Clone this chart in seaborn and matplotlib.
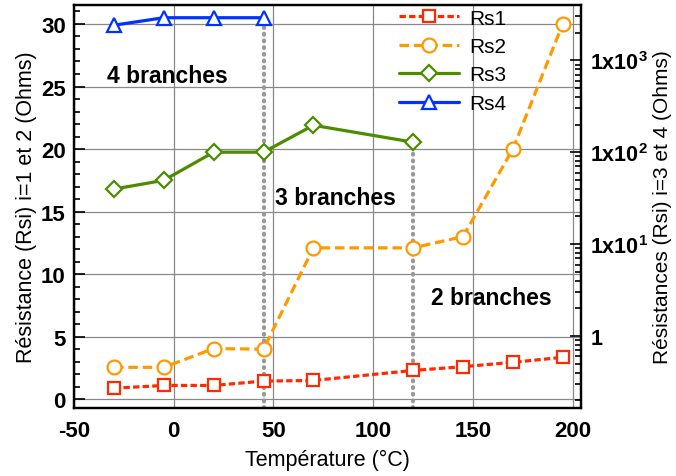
import matplotlib.pyplot as plt
import matplotlib.ticker as mticker
import seaborn as sns

sns.set_theme(style="white")
plt.rcParams["font.family"] = ["Liberation Sans", "DejaVu Sans"]
plt.rcParams["mathtext.fontset"] = "custom"
plt.rcParams["mathtext.bf"] = "Liberation Sans:bold"
plt.rcParams["mathtext.rm"] = "Liberation Sans"
plt.rcParams["axes.unicode_minus"] = False
for key in ["text.color", "axes.labelcolor", "xtick.color", "ytick.color"]:
    plt.rcParams[key] = "black"

# data
temps = [-30, -5, 20, 45, 70, 120, 145, 170, 195]
rs1 = [0.88, 1.1, 1.1, 1.45, 1.5, 2.3, 2.6, 2.95, 3.35]
rs2 = [2.55, 2.55, 4.05, 4.0, 12.1, 12.1, 13.0, 20.0, 30.0]
temps_rs3 = [-30, -5, 20, 45, 70, 120]
rs3 = [16.8, 17.5, 19.75, 19.75, 21.9, 20.55]
temps_rs4 = [-30, -5, 20, 45]
rs4 = [29.9, 30.5, 30.5, 30.5]

# limits between branch regimes (temperature, top of dotted line)
branch_temps = [45, 120]
branch_tops = [30.5, 20.55]

right_ticks = [1, 10, 100, 1000]
right_labels = ["$\\mathbf{1}$", "$\\mathbf{1x10^{1}}$", "$\\mathbf{1x10^{2}}$", "$\\mathbf{1x10^{3}}$"]

RED = "#ff2a00"
ORANGE = "#ff9900"
GREEN = "#4c8c00"
BLUE = "#0033ff"
GRAY = "#999999"

fig, ax = plt.subplots(figsize=(6.76, 4.77), dpi=100)
fig.subplots_adjust(left=0.1095, right=0.859, bottom=0.1426, top=0.987)

ax.grid(True, color="#888888", linewidth=0.9)
ax.set_axisbelow(True)

for t, top in zip(branch_temps, branch_tops):
    ax.vlines(t, -0.7, top, colors=GRAY, linewidth=3,
              linestyles=(0, (0.2, 1.4)), capstyle="round", zorder=1.5)

common = dict(ax=ax, markerfacecolor="white", markeredgewidth=1.6, linewidth=2.3)
sns.lineplot(x=temps, y=rs1, color=RED, marker="s", markersize=8.5,
             markeredgecolor=RED, dashes=(2, 1), label="Rs1", **common)
sns.lineplot(x=temps, y=rs2, color=ORANGE, marker="o", markersize=10,
             markeredgecolor=ORANGE, dashes=(3, 1.5), label="Rs2", **common)
sns.lineplot(x=temps_rs3, y=rs3, color=GREEN, marker="D", markersize=8,
             markeredgecolor=GREEN, label="Rs3", **common)
sns.lineplot(x=temps_rs4, y=rs4, color=BLUE, marker="^", markersize=10,
             markeredgecolor=BLUE, label="Rs4", **common)

ax.set_xlim(-50, 204)
ax.set_ylim(-0.7, 31.5)
ax.xaxis.set_major_locator(mticker.MultipleLocator(50))
ax.xaxis.set_minor_locator(mticker.MultipleLocator(10))
ax.yaxis.set_major_locator(mticker.MultipleLocator(5))
ax.yaxis.set_minor_locator(mticker.MultipleLocator(1))
ax.tick_params(which="both", direction="in", top=False, right=False,
               color="black", width=1.2)
ax.tick_params(which="major", length=8, labelsize=16, pad=6)
ax.tick_params(axis="x", which="major", pad=9)
ax.tick_params(which="minor", length=4.5)
for lab in ax.get_xticklabels() + ax.get_yticklabels():
    lab.set_fontweight("bold")

for side in ax.spines.values():
    side.set_linewidth(1.6)
    side.set_color("black")

ax.set_xlabel("Température (°C)", fontsize=15.5, labelpad=5)
ax.set_ylabel("Résistance (Rsi) i=1 et 2 (Ohms)", fontsize=15.5, labelpad=3)

ax.text(-33.5, 25.9, "4 branches", fontsize=16.5, fontweight="bold", va="center")
ax.text(51, 16.1, "3 branches", fontsize=16.5, fontweight="bold", va="center")
ax.text(129, 8.15, "2 branches", fontsize=16.5, fontweight="bold", va="center")

leg = ax.legend(loc="upper left", bbox_to_anchor=(0.625, 1.012), frameon=False,
                fontsize=15, handlelength=2.9, handletextpad=0.45,
                labelspacing=0.45, borderaxespad=0)

ax2 = ax.twinx()
ax2.set_yscale("log")
ax2.set_ylim(0.165, 3980)
ax2.yaxis.set_major_locator(mticker.FixedLocator(right_ticks))
ax2.yaxis.set_major_formatter(mticker.FixedFormatter(right_labels))
ax2.yaxis.set_minor_locator(mticker.LogLocator(base=10, subs=range(2, 10)))
ax2.yaxis.set_minor_formatter(mticker.NullFormatter())
ax2.tick_params(which="both", direction="in", color="black", width=1.2)
ax2.tick_params(which="major", length=8, labelsize=15.5, pad=7)
ax2.tick_params(which="minor", length=4)
ax2.set_ylabel("Résistances (Rsi) i=3 et 4 (Ohms)", fontsize=15, labelpad=3)
for side in ax2.spines.values():
    side.set_linewidth(1.6)
    side.set_color("black")

fig.savefig("out.png", dpi=100)
